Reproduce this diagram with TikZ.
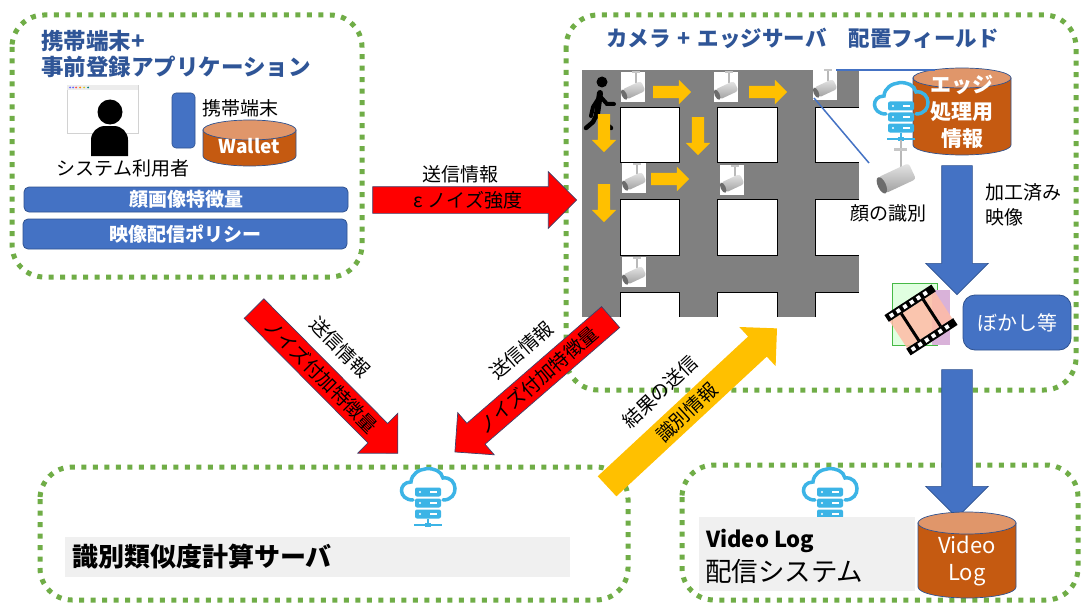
\documentclass[tikz,border=0pt]{standalone}
\usepackage{fontspec}
\newfontfamily\jp{Noto Sans CJK JP}
\usetikzlibrary{shapes.arrows,shapes.geometric}
\definecolor{grn}{HTML}{70AD47}
\definecolor{ttl}{HTML}{2F5597}
\definecolor{blu}{HTML}{4472C4}
\definecolor{bluD}{HTML}{2F528F}
\definecolor{org}{HTML}{C55A11}
\definecolor{orgL}{HTML}{E0966A}
\definecolor{ylw}{HTML}{FFC000}
\definecolor{icy}{HTML}{3CB4E6}
\definecolor{road}{HTML}{808080}
\definecolor{lbl}{HTML}{F0F0F0}
\definecolor{redline}{HTML}{40406A}
\newcommand\fsz[2]{\fontsize{#1pt}{#2pt}\selectfont}
% drum: centre x, x radius, top ellipse y, bottom ellipse y, y radius
\newcommand\drum[5]{%
  \filldraw[fill=org, draw=bluD, line width=0.7pt]
    (#1-#2,#3) -- (#1-#2,#4) arc[start angle=180,end angle=360,x radius=#2,y radius=#5] -- (#1+#2,#3) -- cycle;
  \filldraw[fill=orgL, draw=bluD, line width=0.7pt] (#1,#3) ellipse[x radius=#2, y radius=#5];}
\tikzset{
  every node/.style={font=\jp},
  zone/.style={draw=grn, line width=5pt, dash pattern=on 5pt off 6.5pt, rounded corners=32pt},
  bar/.style={draw=bluD, fill=blu, rounded corners=5pt, line width=0.8pt},
  title/.style={text=ttl, font=\jp\bfseries\fsz{22.5}{27}, anchor=west, inner sep=0pt},
  lab/.style={font=\jp\fsz{19}{25}, inner sep=0pt},
  % CJK glyphs sit between about -0.12em and 0.88em
  cjkshaft/.style={text height=16.7pt, text depth=2.3pt},
  redarr/.style={single arrow, fill=red, draw=redline, line width=0.7pt, inner xsep=0pt,
    font=\jp\fsz{19}{25}, single arrow head indent=0pt, cjkshaft},
  yelarr/.style={single arrow, fill=ylw, draw=none, inner xsep=0pt, font=\jp\fsz{19}{25}, cjkshaft},
  minarr/.style={single arrow, fill=ylw, draw=none, inner xsep=0pt, inner ysep=6pt,
    text height=0pt, text depth=0pt, single arrow head extend=6pt, minimum height=38pt},
  bluarr/.style={single arrow, fill=blu, draw=bluD, line width=0.6pt, inner xsep=0pt,
    text height=0pt, text depth=0pt, inner ysep=15pt, single arrow head extend=16pt},
  link/.style={draw=blu, line width=1.5pt},
  cambody/.pic={
    \draw[gray!55, line width=2pt] (3,15) -- (3,4);
    \fill[gray!45] (-1,13.5) rectangle (7,15.5);
    \begin{scope}[shift={(0,-3)}, rotate=25]
      \shade[top color=gray!20, bottom color=gray!75, rounded corners=3pt] (-10,-6) rectangle (11,5);
      \fill[gray!85!black] (-10,-0.5) ellipse[x radius=2.5, y radius=5.5];
    \end{scope}},
  cam/.pic={\fill[white] (-12,-15) rectangle (12,15); \pic {cambody};},
  srv/.pic={
    \draw[icy, line width=3.5pt, line cap=round]
      (-15,-2) .. controls (-30,-2) and (-30,16) .. (-17,16)
      .. controls (-16,32) and (12,34) .. (15,20)
      .. controls (30,22) and (32,-2) .. (15,-2);
    \foreach \yy in {6,-5,-16} {
      \fill[icy, rounded corners=2pt] (-13,\yy-4.5) rectangle (13,\yy+4.5);
      \fill[white] (-8,\yy) circle (1.2);
      \fill[white] (2,\yy-0.8) rectangle (9,\yy+0.8);
    }
    \draw[icy, line width=2pt] (0,-20.5) -- (0,-27) (-14,-27) -- (14,-27);
    \fill[icy] (-3,-29) rectangle (3,-25);}
}
\begin{document}
\begin{tikzpicture}[x=1pt, y=1pt]
\useasboundingbox (0,0) rectangle (1083,-607);
\fill[white] (0,0) rectangle (1083,-607);

% ---------- zones ----------
\draw[zone] (12,-15) rectangle (362,-277);
\draw[zone] (566,-15) rectangle (1076,-390);
\draw[zone] (40,-467) rectangle (628,-600);
\draw[zone] (682,-465) rectangle (1078,-600);

% ---------- terminal + pre-registration app ----------
\node[title] (appT1) at (41,-41) {携帯端末+};
\node[title] (appT2) at (41,-67) {事前登録アプリケーション};
% browser window behind the user
\filldraw[fill=white, draw=gray!35, line width=0.5pt] (67,-85) rectangle (138,-133);
\fill[gray!15] (67,-85) rectangle (138,-90);
\foreach \xx/\cc in {70/blue!60, 73/blue!60, 76/red!70, 80/orange, 84/yellow!80!black, 88/teal} \fill[\cc] (\xx,-87.5) circle (1);
% user silhouette
\fill[black] (110,-112) circle (12.5);
\fill[black] (91,-156) -- (91,-140) arc[start angle=180, end angle=90, radius=14] -- (114,-126)
  arc[start angle=90, end angle=0, radius=14] -- (128,-156) -- cycle;
\node[lab] (user) at (123,-168) {システム利用者};
% handset and wallet
\filldraw[fill=blu, draw=bluD, rounded corners=4pt, line width=0.6pt] (172,-93) rectangle (195,-148);
\node[lab, anchor=west] (phone) at (202,-108) {携帯端末};
\drum{249.5}{46.5}{-130}{-156}{10}
\node[font=\jp\bfseries\fsz{19}{25}, text=white] (wallet) at (249.5,-146) {Wallet};
% registered data bars
\draw[bar] (24,-187) rectangle (348,-212);
\node[font=\jp\bfseries\fsz{19}{25}, text=white] (feat) at (186,-199.5) {顔画像特徴量};
\draw[bar] (23,-219) rectangle (347,-249);
\node[font=\jp\bfseries\fsz{19}{25}, text=white] (policy) at (185,-234) {映像配信ポリシー};

% ---------- camera + edge server field ----------
\node[title, font=\jp\bfseries\fsz{21.5}{27}] (fieldT) at (606,-38)
  {カメラ\hspace{7pt}+\hspace{7pt}エッジサーバ\hspace{22pt}配置フィールド};
% street grid
\fill[road] (582,-70) rectangle (859,-317);
\foreach \ya/\yb in {107/162, 199/255} {
  \foreach \xa/\xb in {620/679, 717/777} \filldraw[fill=white, draw=black, line width=0.8pt] (\xa,-\ya) rectangle (\xb,-\yb);
  \fill[white] (815,-\ya) rectangle (868,-\yb);
  \draw[line width=0.8pt] (859,-\ya) -- (815,-\ya) -- (815,-\yb) -- (859,-\yb);
}
\foreach \xa/\xb in {620/679, 717/777} {
  \fill[white] (\xa,-292) rectangle (\xb,-317);
  \draw[line width=0.8pt] (\xa,-317) -- (\xa,-292) -- (\xb,-292) -- (\xb,-317);
}
\fill[white] (815,-292) rectangle (868,-317);
\draw[line width=0.8pt] (815,-317) -- (815,-292) -- (859,-292);
% cameras along the streets
\pic at (633,-87) {cam};
\pic at (726,-87) {cam};
\pic at (825,-85) {cam};
\pic at (634,-178) {cam};
\pic at (732,-180) {cam};
\pic at (634,-272) {cam};
% walking person
\fill (602,-82) circle (5.5);
\draw[line width=6pt, line cap=round] (600,-93) -- (597,-114);
\draw[line width=4pt, line cap=round] (599,-95) -- (607,-104) -- (614,-104);
\draw[line width=4pt, line cap=round] (600,-96) -- (593,-107) -- (591,-116);
\draw[line width=4.5pt, line cap=round] (597,-114) -- (593,-122) -- (586,-128);
\draw[line width=4.5pt, line cap=round] (597,-114) -- (603,-122) -- (611,-128);
% walking route
\node[minarr] (r1) at (669,-92) {};
\node[minarr] (r2) at (765,-92) {};
\node[minarr] (r3) at (667,-179) {};
\node[minarr, rotate=-90] (d1) at (604,-130) {};
\node[minarr, rotate=-90] (d2) at (698,-133) {};
\node[minarr, rotate=-90] (d3) at (604,-200) {};
% edge server, its data and the face camera
\coordinate (camNE) at (836,-70);
\coordinate (camSE) at (814,-98);
\coordinate (edgeW) at (935,-70);
\coordinate (faceCam) at (869,-163);
\drum{962}{49}{-78}{-145}{10}
\draw[link] (camNE) -- (edgeW);
\draw[link] (camSE) -- (faceCam);
\pic at (901,-112) {srv};
\draw[gray!55, line width=2.5pt] (901,-140) -- (901,-150);
\pic[scale=1.6] at (896,-173) {cambody};
\node[font=\jp\bfseries\fsz{21}{27}, text=white, align=center] (edgeInfo) at (962,-112) {エッジ\\処理用\\情報};
\node[lab] (faceId) at (888,-213) {顔の識別};
\node[lab, anchor=west, align=left] (processed) at (985,-205) {加工済み\\映像};
\node[bluarr, rotate=-90, minimum height=129pt] (procArrow) at (957,-222.5) {};
% film (processed video) icon
\filldraw[fill=green!12, draw=green!45!gray, line width=1pt] (892,-283) rectangle (937,-345);
\fill[violet!30] (932,-290) rectangle (950,-345);
\begin{scope}[shift={(921,-320)}, rotate=33]
  \fill[red!50!orange!35, opacity=0.85] (-27,-16) rectangle (27,16);
  \fill[black] (-28,16) rectangle (28,24);
  \fill[black] (-28,-24) rectangle (28,-16);
  \foreach \xx in {-22,-14,...,22} {
    \fill[white] (\xx-2,18) rectangle (\xx+2,22);
    \fill[white] (\xx-2,-22) rectangle (\xx+2,-18);
  }
  \draw[line width=3pt] (-13,-16) -- (-13,16) (13,-16) -- (13,16);
\end{scope}
\filldraw[fill=blu, draw=bluD, rounded corners=12pt, line width=0.8pt] (963,-295) rectangle (1071,-350);
\node[font=\jp\fsz{20}{25}, text=white] (blur) at (1017,-322.5) {ぼかし等};
\node[bluarr, rotate=-90, minimum height=148pt] (logArrow) at (957,-436) {};

% ---------- similarity server ----------
\pic at (428,-498) {srv};
\fill[lbl] (65,-537) rectangle (570,-577);
\node[font=\jp\bfseries\fsz{26}{30}, anchor=west, inner sep=0pt] (simSrv) at (72,-557) {識別類似度計算サーバ};

% ---------- video log delivery ----------
\pic at (830,-498) {srv};
\fill[lbl] (699,-517) rectangle (915,-591);
\node[font=\jp\bfseries\fsz{22}{27}, anchor=west, inner sep=0pt] (vlogT) at (706,-541) {Video Log};
\node[font=\jp\fsz{26.5}{30}, anchor=west, inner sep=0pt] (vlogS) at (705,-571) {配信システム};
\drum{967}{49}{-523}{-587}{11}
\node[font=\jp\fsz{22}{27}, text=white, align=center] (vlogDB) at (967,-561) {Video\\Log};

% ---------- information flows ----------
\node[redarr, minimum height=204pt, inner ysep=3.5pt,
      single arrow head extend=15pt] (eps) at (468,-200) {ε ノイズ強度};
\node[lab] (sendA) at (460,-174) {送信情報};
\node[redarr, rotate=-45.2, minimum height=204pt, inner ysep=4pt,
      single arrow head extend=14.5pt] (featL) at (321,-376) {ノイズ付加特徴量};
\node[lab, rotate=-45] (sendB) at (340,-347) {送信情報};
\node[redarr, rotate=40.9, shape border rotate=180, minimum height=206pt,
      inner ysep=4pt, single arrow head extend=14pt] (featR) at (538,-380) {ノイズ付加特徴量};
\node[lab, rotate=41] (sendC) at (521.5,-350.5) {送信情報};
\node[yelarr, rotate=42.9, minimum height=232pt,
      inner ysep=4pt, single arrow head extend=13pt] (idInfo) at (687,-412) {識別情報};
\node[lab, rotate=43] (result) at (660,-392) {結果の送信};
\end{tikzpicture}
\end{document}
